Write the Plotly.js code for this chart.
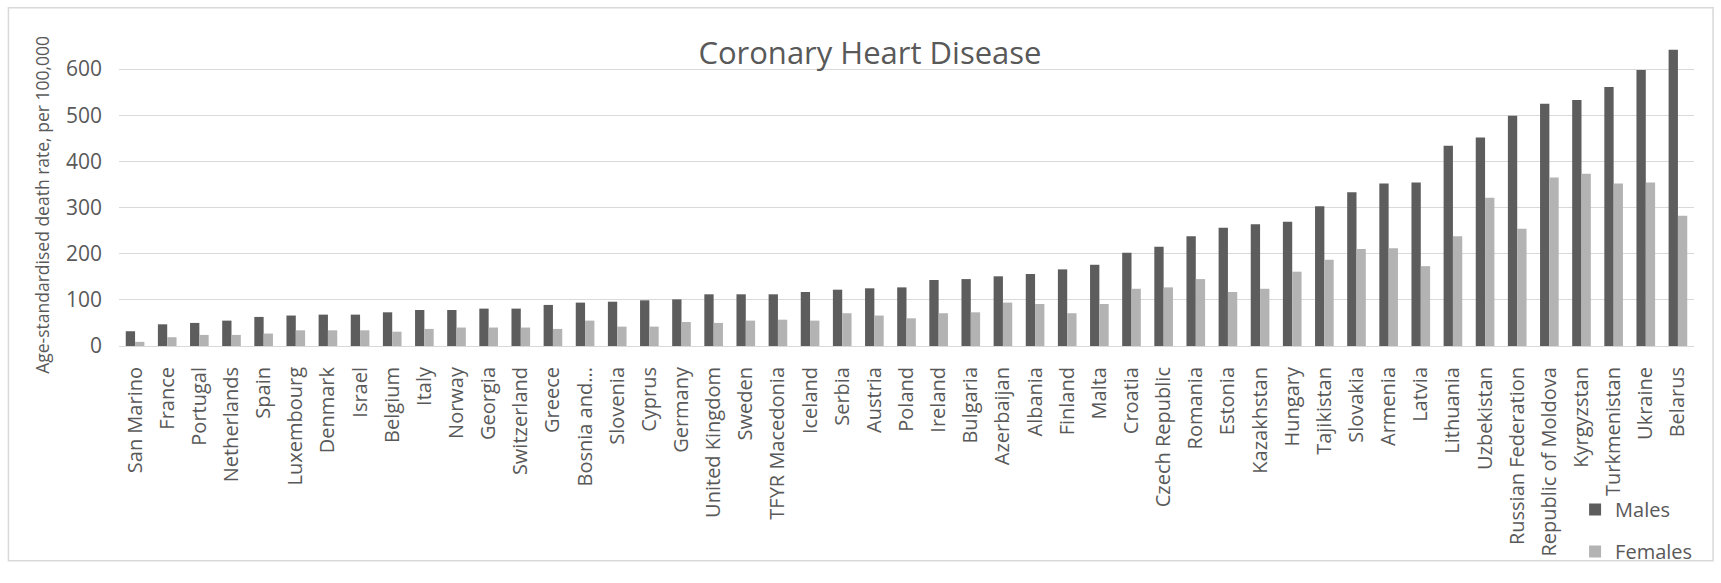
<!DOCTYPE html>
<html>
<head>
<meta charset="utf-8">
<script src="https://cdn.plot.ly/plotly-3.0.1.min.js"></script>
<style>
html,body{margin:0;padding:0;background:#fff;}
#chart{width:1721px;height:583px;}
</style>
</head>
<body>
<div id="chart"></div>
<script>
const countries = ["San Marino","France","Portugal","Netherlands","Spain","Luxembourg","Denmark","Israel","Belgium","Italy","Norway","Georgia","Switzerland","Greece","Bosnia and...","Slovenia","Cyprus","Germany","United Kingdom","Sweden","TFYR Macedonia","Iceland","Serbia","Austria","Poland","Ireland","Bulgaria","Azerbaijan","Albania","Finland","Malta","Croatia","Czech Republic","Romania","Estonia","Kazakhstan","Hungary","Tajikistan","Slovakia","Armenia","Latvia","Lithuania","Uzbekistan","Russian Federation","Republic of Moldova","Kyrgyzstan","Turkmenistan","Ukraine","Belarus"];
const males = [32,47,50,55,63,66,68,68,73,78,78,81,81,89,94,96,99,101,112,112,112,117,122,125,127,143,145,151,156,166,176,202,215,238,256,264,269,303,333,352,354,434,452,499,525,533,561,598,642];
const females = [9,19,24,24,27,34,34,34,31,37,40,40,40,37,55,42,42,52,50,55,57,55,71,66,60,71,73,94,91,71,91,124,127,145,117,124,161,187,210,212,173,238,321,254,365,373,352,354,282];
const yTicks = [0,100,200,300,400,500,600];
const yTitle = "Age-standardised death rate, per 100,000";

const font = "Open Sans, sans-serif";
const textCol = "#595959";

const traces = [
  {type:"bar", name:"Males", x:countries, y:males, marker:{color:"#5d5d5d"}, legendgroup:"m"},
  {type:"bar", name:"Females", x:countries, y:females, marker:{color:"#b3b3b3"}, legendgroup:"f"}
];

const layout = {
  width:1721, height:583,
  margin:{l:118.6, r:27, t:46.5, b:226.7},
  paper_bgcolor:"#fff", plot_bgcolor:"rgba(0,0,0,0)",
  font:{family:font, color:textCol},
  title:{text:"Coronary Heart Disease", font:{family:font, size:31, color:textCol}, x:0.5055, xanchor:"center", y:0.909, yanchor:"middle", xref:"container", yref:"container"},
  barmode:"group", bargap:0.42, bargroupgap:0,
  xaxis:{type:"category", tickangle:-90, tickfont:{family:font, size:20, color:textCol}, showline:true, linecolor:"#d9d9d9", linewidth:1, ticks:"", showgrid:false, ticklabelstandoff:12, automargin:false},
  yaxis:{range:[0,650], tickvals:yTicks, tickfont:{family:font, size:21, color:textCol}, showgrid:true, gridcolor:"#d9d9d9", gridwidth:1, zeroline:false, ticks:"", ticklabelstandoff:16, automargin:false},
  annotations:[{text:yTitle, xref:"paper", yref:"paper", x:-0.0486, y:0.4722, xanchor:"center", yanchor:"middle", textangle:-90, showarrow:false, font:{family:font, size:17.5, color:textCol}}],
  showlegend:true,
  legend:{x:0.9245, xanchor:"left", y:-0.48, yanchor:"top", orientation:"v", font:{family:font, size:20, color:textCol}, tracegroupgap:13, bgcolor:"rgba(0,0,0,0)", itemwidth:30},
  shapes:[{type:"rect", xref:"paper", yref:"paper", x0:-0.0702, x1:1.0121, y0:-0.7156, y1:1.1275, line:{color:"#d9d9d9", width:1.5}, fillcolor:"rgba(0,0,0,0)", layer:"below"}]
};

Plotly.newPlot("chart", traces, layout, {displayModeBar:false, staticPlot:true});
</script>
</body>
</html>
